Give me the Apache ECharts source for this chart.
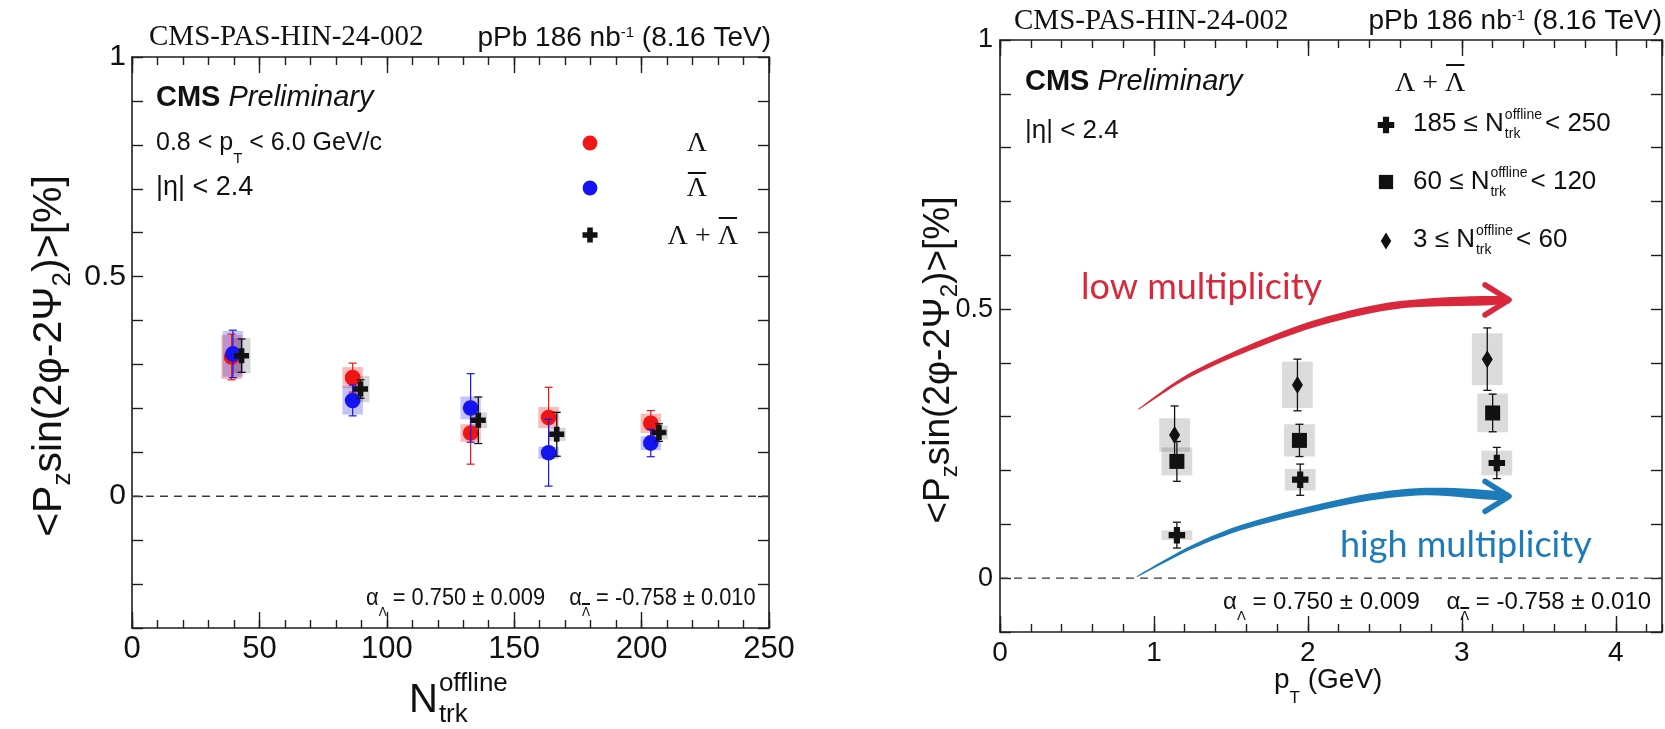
<!DOCTYPE html>
<html>
<head>
<meta charset="utf-8">
<title>CMS-PAS-HIN-24-002</title>
<script src="https://cdn.jsdelivr.net/npm/echarts@6.0.0/dist/echarts.min.js"></script>
<style>
  html, body { margin: 0; padding: 0; background: #fff; }
  #chart-container { width: 1665px; height: 729px; }
</style>
</head>
<body>
<div id="chart-container"></div>
<script>
// left panel: <Pz sin(2phi-2Psi2)> vs Ntrk offline
const nTrkLam = [39.1, 86.6, 132.9, 163.5, 203.6];
const polLam = [0.317, 0.270, 0.144, 0.179, 0.166];
const statLam = [0.052, 0.033, 0.071, 0.069, 0.029];
const systLam = [0.050, 0.024, 0.020, 0.024, 0.022];

const nTrkLamBar = [39.6, 86.6, 132.9, 163.5, 203.6];
const polLamBar = [0.324, 0.218, 0.201, 0.099, 0.121];
const statLamBar = [0.054, 0.035, 0.078, 0.076, 0.031];
const systLamBar = [0.052, 0.032, 0.026, 0.014, 0.016];

const nTrkSum = [43.0, 89.7, 135.9, 166.7, 206.8];
const polSum = [0.320, 0.244, 0.173, 0.141, 0.145];
const statSum = [0.038, 0.021, 0.053, 0.050, 0.020];
const systSum = [0.040, 0.030, 0.018, 0.015, 0.016];

// right panel: Lambda + anti-Lambda vs pT, three multiplicity classes
const ptHighMult = [1.149, 1.950, 3.227];   // 185 <= N < 250
const polHighMult = [0.080, 0.183, 0.214];
const statHighMult = [0.024, 0.029, 0.029];
const systHighMult = [0.009, 0.020, 0.023];

const ptMidMult = [1.149, 1.945, 3.200];    // 60 <= N < 120
const polMidMult = [0.217, 0.256, 0.307];
const statMidMult = [0.037, 0.030, 0.035];
const systMidMult = [0.026, 0.030, 0.036];

const ptLowMult = [1.134, 1.932, 3.165];    // 3 <= N < 60
const polLowMult = [0.266, 0.359, 0.407];
const statLowMult = [0.054, 0.048, 0.058];
const systLowMult = [0.031, 0.043, 0.048];

// hand drawn guide arrows (pT, value)
const lowArrowPt = [0.90, 1.20, 1.62, 2.08, 2.60, 3.30];
const lowArrowPol = [0.314, 0.372, 0.428, 0.476, 0.508, 0.517];
const highArrowPt = [0.89, 1.25, 1.59, 2.29, 2.76, 3.30];
const highArrowPol = [0.003, 0.058, 0.096, 0.145, 0.161, 0.152];

const yTickLabels = [0, 0.5, 1];

const SANS = '"Liberation Sans", Arial, Helvetica, sans-serif';
const SERIF = '"Liberation Serif", "Times New Roman", serif';
const HUMAN = 'Lato, "Open Sans", sans-serif';
const DJV = '"DejaVu Sans", sans-serif';
const INK = '#111111';
const AXIS = '#1e1e1e';
const RED = '#f01414';
const BLUE = '#1414f0';
const ARROW_RED = '#d9283b';
const ARROW_BLUE = '#1c7bb8';

const measureCtx = document.createElement('canvas').getContext('2d');
function tw(text, font) {
    measureCtx.font = font;
    return measureCtx.measureText(text).width;
}

function toRows(xs, ys, stat, syst) {
    return xs.map((x, i) => [x, ys[i], stat[i], syst[i]]);
}

function marker(kind, cx, cy, color, k) {
    k = k || 1;
    if (kind === 'circle') {
        return { type: 'circle', shape: { cx: cx, cy: cy, r: 7.8 * k }, style: { fill: color } };
    }
    if (kind === 'square') {
        const h = 7.5 * k;
        return { type: 'rect', shape: { x: cx - h, y: cy - h, width: 2 * h, height: 2 * h }, style: { fill: color } };
    }
    if (kind === 'diamond') {
        const w = 5.5 * k, h = 9 * k;
        return { type: 'polygon', shape: { points: [[cx, cy - h], [cx + w, cy], [cx, cy + h], [cx - w, cy]] }, style: { fill: color } };
    }
    const a = 7.5 * k, t = 2.8 * k;
    return {
        type: 'polygon',
        shape: {
            points: [[cx - t, cy - a], [cx + t, cy - a], [cx + t, cy - t], [cx + a, cy - t], [cx + a, cy + t], [cx + t, cy + t],
                [cx + t, cy + a], [cx - t, cy + a], [cx - t, cy + t], [cx - a, cy + t], [cx - a, cy - t], [cx - t, cy - t]]
        },
        style: { fill: color }
    };
}

// systematic boxes
function boxSeries(xi, yi, data, halfW, fill) {
    return {
        type: 'custom', xAxisIndex: xi, yAxisIndex: yi, z: 2, clip: false, silent: true,
        data: data,
        renderItem: function (params, api) {
            const x = api.value(0), y = api.value(1), s = api.value(3);
            const p1 = api.coord([x - halfW, y + s]);
            const p2 = api.coord([x + halfW, y - s]);
            return {
                type: 'rect',
                shape: { x: p1[0], y: p1[1], width: p2[0] - p1[0], height: p2[1] - p1[1] },
                style: { fill: fill }
            };
        }
    };
}

// markers with statistical error bars
function pointSeries(xi, yi, data, kind, color, k, lw) {
    return {
        type: 'custom', xAxisIndex: xi, yAxisIndex: yi, z: 3, clip: false, silent: true,
        data: data,
        renderItem: function (params, api) {
            const x = api.value(0), y = api.value(1), s = api.value(2);
            const c = api.coord([x, y]);
            const t = api.coord([x, y + s]);
            const b = api.coord([x, y - s]);
            const ls = { stroke: color, lineWidth: lw };
            return {
                type: 'group',
                children: [
                    { type: 'line', shape: { x1: c[0], y1: t[1], x2: c[0], y2: b[1] }, style: ls },
                    { type: 'line', shape: { x1: c[0] - 4, y1: t[1], x2: c[0] + 4, y2: t[1] }, style: ls },
                    { type: 'line', shape: { x1: c[0] - 4, y1: b[1], x2: c[0] + 4, y2: b[1] }, style: ls },
                    marker(kind, c[0], c[1], color, k)
                ]
            };
        }
    };
}

// tapered guide arrow on the right panel
function arrowSeries(pts, pols, color, widths) {
    return {
        type: 'custom', xAxisIndex: 4, yAxisIndex: 2, z: 1, clip: false, silent: true,
        data: [[pts[0], pols[0]]],
        renderItem: function (params, api) {
            const p = pts.map((x, i) => api.coord([x, pols[i]]));
            const n = p.length, up = [], lo = [];
            for (let i = 0; i < n; i++) {
                const a = p[Math.max(i - 1, 0)], b = p[Math.min(i + 1, n - 1)];
                const len = Math.hypot(b[0] - a[0], b[1] - a[1]);
                const nx = -(b[1] - a[1]) / len, ny = (b[0] - a[0]) / len;
                up.push([p[i][0] + nx * widths[i], p[i][1] + ny * widths[i]]);
                lo.push([p[i][0] - nx * widths[i], p[i][1] - ny * widths[i]]);
            }
            const tip = p[n - 1];
            return {
                type: 'group',
                children: [
                    { type: 'polygon', shape: { points: up.concat(lo.reverse()), smooth: 0.3 }, style: { fill: color } },
                    {
                        type: 'polyline',
                        shape: { points: [[tip[0] - 23, tip[1] - 15], [tip[0] + 1, tip[1]], [tip[0] - 23, tip[1] + 15]] },
                        style: { stroke: color, fill: null, lineWidth: 5.5, lineCap: 'round', lineJoin: 'round' }
                    }
                ]
            };
        }
    };
}

function zeroLine(xi, yi, x0, x1) {
    return {
        type: 'line', xAxisIndex: xi, yAxisIndex: yi, z: 1, silent: true, symbol: 'none',
        data: [[x0, 0], [x1, 0]],
        lineStyle: { color: '#3a3a3a', width: 1.3, type: [8, 6] }
    };
}

function xAxesFor(g, min, max, major, minor, fs, margin, showMax) {
    const line = { show: true, onZero: false, lineStyle: { color: AXIS, width: 1.6 } };
    const noLine = { show: false, onZero: false };
    const tick = (len) => ({ show: true, inside: true, length: len, lineStyle: { color: AXIS, width: 1.4 } });
    const base = { type: 'value', gridIndex: g, min: min, max: max, splitLine: { show: false } };
    return [
        Object.assign({}, base, {
            position: 'bottom', interval: major, axisLine: line, axisTick: tick(16),
            axisLabel: { show: true, fontSize: fs, fontFamily: SANS, color: INK, margin: margin, showMinLabel: true, showMaxLabel: showMax }
        }),
        Object.assign({}, base, { position: 'bottom', interval: minor, axisLine: noLine, axisTick: tick(8), axisLabel: { show: false } }),
        Object.assign({}, base, { position: 'top', interval: major, axisLine: line, axisTick: tick(16), axisLabel: { show: false } }),
        Object.assign({}, base, { position: 'top', interval: minor, axisLine: noLine, axisTick: tick(8), axisLabel: { show: false } })
    ];
}

function yAxesFor(g, min, max, fs, margin) {
    const line = { show: true, onZero: false, lineStyle: { color: AXIS, width: 1.6 } };
    const tick = { show: true, inside: true, length: 11, lineStyle: { color: AXIS, width: 1.4 } };
    const fmt = (v) => yTickLabels.some((l) => Math.abs(l - v) < 1e-6) ? String(+v.toFixed(2)) : '';
    return [
        {
            type: 'value', gridIndex: g, position: 'left', min: min, max: max, interval: 0.1,
            axisLine: line, axisTick: tick, splitLine: { show: false },
            axisLabel: { show: true, fontSize: fs, fontFamily: SANS, color: INK, margin: margin, formatter: fmt, showMinLabel: true, showMaxLabel: true }
        },
        {
            type: 'value', gridIndex: g, position: 'right', min: min, max: max, interval: 0.1,
            axisLine: line, axisTick: tick, splitLine: { show: false }, axisLabel: { show: false }
        }
    ];
}

// ---- annotation texts ----
const G = [];
function txt(x, y, text, font, o) {
    o = o || {};
    const align = o.align || 'left';
    const el = {
        type: 'text', x: x, y: y, z: 50, silent: true,
        style: Object.assign({
            text: text, font: font, fill: o.fill || INK,
            align: align, textAlign: align, verticalAlign: 'middle', textVerticalAlign: 'middle'
        }, o.style || {})
    };
    if (o.rotation) el.rotation = o.rotation;
    if (o.scaleX) el.scaleX = o.scaleX;
    G.push(el);
}
function rs(size, extra, fam) {
    return Object.assign({ fontSize: size, fontFamily: fam || SANS, fill: INK }, extra || {});
}
function bar(x1, x2, y, lw) {
    G.push({ type: 'line', z: 50, silent: true, shape: { x1: x1, y1: y, x2: x2, y2: y }, style: { stroke: INK, lineWidth: lw || 2 } });
}
function nLabel(x, y, pre, post, big, small, dyUp, dyDn) {
    const F = big + 'px ' + SANS, f = small + 'px ' + SANS;
    txt(x, y, pre + 'N', F);
    const x2 = x + tw(pre + 'N', F) + 1;
    txt(x2, y - dyUp, 'offline', f);
    txt(x2, y + dyDn, 'trk', f);
    if (post) txt(x2 + tw('offline', f) + 3, y, post, F);
}

const supRich = { a: rs(28, { lineHeight: 26 }), s: rs(15, { lineHeight: 13, verticalAlign: 'top' }) };
const alphaFirst = ' = 0.750 ± 0.009    ';
const alphaText = '{a|α}{s|Λ}{a|' + alphaFirst + '}{a|α}{s|Λ}{a| = -0.758 ± 0.010}';
const alphaRich = { a: rs(24, { lineHeight: 42 }), s: rs(13, { lineHeight: 13, verticalAlign: 'bottom' }, DJV) };
function alphaLabel(x, y, scale) {
    txt(x, y, alphaText, '24px ' + SANS, { scaleX: scale, style: { rich: alphaRich } });
    const fa = '24px ' + SANS, fs = '13px ' + DJV;
    const pre = tw('α', fa) + tw('Λ', fs) + tw(alphaFirst, fa) + tw('α', fa);
    bar(x + scale * pre, x + scale * (pre + tw('Λ', fs)), y + 6, 2);
}
const yTitle = '{a|<P}{s|z}{a|sin(2φ-2Ψ}{s|2}{a|)>[%]}';
const wLam = tw('Λ', '28px ' + SERIF);

// left panel
txt(149, 37, 'CMS-PAS-HIN-24-002', '29px ' + SERIF);
txt(771, 38, '{a|pPb 186 nb}{s|-1}{a| (8.16 TeV)}', '28px ' + SANS, { align: 'right', style: { rich: supRich } });
txt(156, 98, '{b|CMS} {i|Preliminary}', '29px ' + SANS, { style: { rich: { b: rs(29, { fontWeight: 'bold' }), i: rs(29, { fontStyle: 'italic' }) } } });
txt(156, 143, '{a|0.8 < p}{s|T}{a| < 6.0 GeV/c}', '25px ' + SANS, { style: { rich: { a: rs(25, { lineHeight: 46 }), s: rs(15, { lineHeight: 15, verticalAlign: 'bottom' }) } } });
txt(156, 188, '|η| < 2.4', '27px ' + SANS);
G.push(Object.assign(marker('circle', 590, 143, RED, 0.95), { z: 50 }));
G.push(Object.assign(marker('circle', 590, 188, BLUE, 0.95), { z: 50 }));
G.push(Object.assign(marker('cross', 590, 235, INK, 1), { z: 50 }));
txt(697, 144, 'Λ', '28px ' + SERIF, { align: 'center' });
txt(697, 189, 'Λ', '28px ' + SERIF, { align: 'center' });
bar(697 - wLam / 2 + 1, 697 + wLam / 2 - 1, 173);
txt(738, 237, 'Λ + Λ', '28px ' + SERIF, { align: 'right' });
bar(738 - wLam + 1, 737, 218);
alphaLabel(366, 598, 0.91);
txt(50, 356, yTitle, '41px ' + SANS, {
    align: 'center', rotation: Math.PI / 2,
    style: { rich: { a: rs(41, { lineHeight: 52 }), s: rs(26, { lineHeight: 26, verticalAlign: 'bottom' }) } }
});
nLabel(409, 701, '', '', 40, 26, 17, 14);

// right panel
txt(1014, 21, 'CMS-PAS-HIN-24-002', '29px ' + SERIF);
txt(1662, 21, '{a|pPb 186 nb}{s|-1}{a| (8.16 TeV)}', '28px ' + SANS, { align: 'right', style: { rich: supRich } });
txt(1025, 82, '{b|CMS} {i|Preliminary}', '29px ' + SANS, { style: { rich: { b: rs(29, { fontWeight: 'bold' }), i: rs(29, { fontStyle: 'italic' }) } } });
txt(1025, 131, '|η| < 2.4', '26px ' + SANS);
txt(1395, 84, 'Λ + Λ', '28px ' + SERIF);
const wSum = tw('Λ + Λ', '28px ' + SERIF);
bar(1395 + wSum - wLam + 1, 1395 + wSum - 1, 65);
G.push(Object.assign(marker('cross', 1386, 125, INK, 1.1), { z: 50 }));
G.push(Object.assign(marker('square', 1386, 182, INK, 0.95), { z: 50 }));
G.push(Object.assign(marker('diamond', 1386, 241, INK, 0.95), { z: 50 }));
nLabel(1413, 124, '185 ≤ ', '< 250', 26, 14, 9, 10);
nLabel(1413, 182, '60 ≤ ', '< 120', 26, 14, 9, 10);
nLabel(1413, 240, '3 ≤ ', '< 60', 26, 14, 9, 10);
txt(1081, 287, 'low multiplicity', '36px ' + HUMAN, { fill: ARROW_RED });
txt(1340, 545, 'high multiplicity', '36px ' + HUMAN, { fill: ARROW_BLUE });
alphaLabel(1223, 602, 1);
txt(939, 360, yTitle, '37px ' + SANS, {
    align: 'center', rotation: Math.PI / 2,
    style: { rich: { a: rs(37, { lineHeight: 47 }), s: rs(24, { lineHeight: 24, verticalAlign: 'bottom' }) } }
});
txt(1274, 680, '{a|p}{s|T}{a| (GeV)}', '28px ' + SANS, { style: { rich: { a: rs(28, { lineHeight: 54 }), s: rs(17, { lineHeight: 17, verticalAlign: 'bottom' }) } } });

const chart = echarts.init(document.getElementById('chart-container'));
const option = {
    animation: false,
    backgroundColor: '#ffffff',
    textStyle: { fontFamily: SANS },
    grid: [
        { left: 132, top: 57, width: 637, height: 571, outerBoundsMode: 'none' },
        { left: 1000, top: 40, width: 662, height: 592, outerBoundsMode: 'none' }
    ],
    xAxis: xAxesFor(0, 0, 250, 50, 10, 31, 6, true).concat(xAxesFor(1, 0, 4.3, 1, 0.2, 28, 7, false)),
    yAxis: yAxesFor(0, -0.3, 1, 30, 6).concat(yAxesFor(1, -0.1, 1, 27, 7)),
    series: [
        zeroLine(0, 0, 0, 250),
        boxSeries(0, 0, toRows(nTrkLam, polLam, statLam, systLam), 4, 'rgba(235, 40, 40, 0.32)'),
        boxSeries(0, 0, toRows(nTrkLamBar, polLamBar, statLamBar, systLamBar), 4, 'rgba(40, 40, 235, 0.28)'),
        boxSeries(0, 0, toRows(nTrkSum, polSum, statSum, systSum), 3.5, 'rgba(0, 0, 0, 0.16)'),
        pointSeries(0, 0, toRows(nTrkLam, polLam, statLam, systLam), 'circle', RED, 1, 1.2),
        pointSeries(0, 0, toRows(nTrkLamBar, polLamBar, statLamBar, systLamBar), 'circle', BLUE, 1, 1.2),
        pointSeries(0, 0, toRows(nTrkSum, polSum, statSum, systSum), 'cross', INK, 1, 1.3),

        zeroLine(4, 2, 0, 4.3),
        arrowSeries(lowArrowPt, lowArrowPol, ARROW_RED, [0.5, 1.8, 2.7, 3.3, 3.7, 3.8]),
        arrowSeries(highArrowPt, highArrowPol, ARROW_BLUE, [0.5, 1.8, 2.6, 3.4, 3.7, 3.8]),
        boxSeries(4, 2, toRows(ptLowMult, polLowMult, statLowMult, systLowMult), 0.1, 'rgba(0, 0, 0, 0.14)'),
        boxSeries(4, 2, toRows(ptMidMult, polMidMult, statMidMult, systMidMult), 0.1, 'rgba(0, 0, 0, 0.14)'),
        boxSeries(4, 2, toRows(ptHighMult, polHighMult, statHighMult, systHighMult), 0.1, 'rgba(0, 0, 0, 0.14)'),
        pointSeries(4, 2, toRows(ptLowMult, polLowMult, statLowMult, systLowMult), 'diamond', INK, 1, 1.3),
        pointSeries(4, 2, toRows(ptMidMult, polMidMult, statMidMult, systMidMult), 'square', INK, 1, 1.3),
        pointSeries(4, 2, toRows(ptHighMult, polHighMult, statHighMult, systHighMult), 'cross', INK, 1.1, 1.3)
    ],
    graphic: G
};
chart.setOption(option);
</script>
</body>
</html>
